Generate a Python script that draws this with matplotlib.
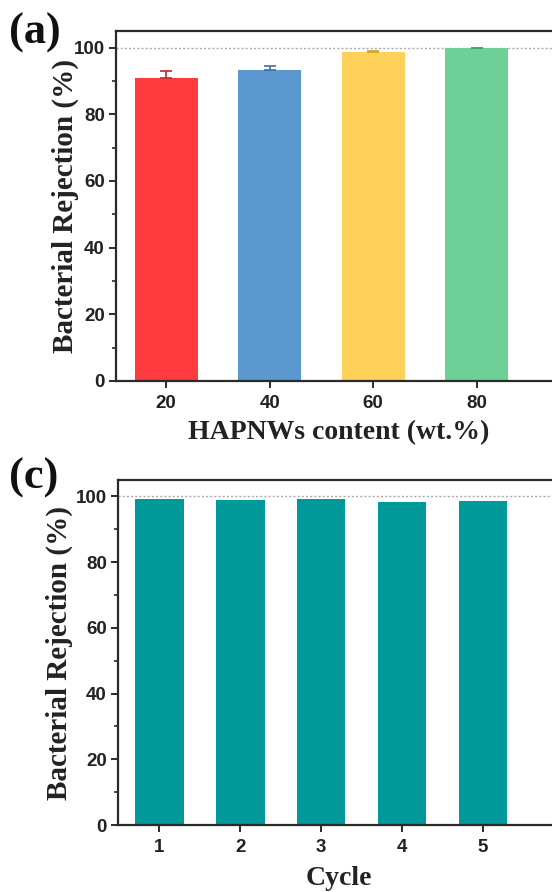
import matplotlib
matplotlib.use("Agg")
import matplotlib.pyplot as plt
from matplotlib.ticker import MultipleLocator

# panel (a)
content = [20, 40, 60, 80]
rejection_a = [91.0, 93.4, 98.6, 99.9]
err_a = [1.9, 1.2, 0.3, 0.1]
colors_a = ["#FF3B40", "#5B98CF", "#FFD159", "#6DD197"]
ecolors_a = ["#C0282C", "#3E6F9E", "#D0A030", "#4BA070"]

# panel (c)
cycle = [1, 2, 3, 4, 5]
rejection_c = [99.3, 98.9, 99.3, 98.4, 98.6]
teal = "#00999A"

serif = "Liberation Serif"
sans = "Liberation Sans"

fig = plt.figure(figsize=(5.52, 8.92), dpi=100)
W, H = 552, 892

def px_axes(left, top, right, bottom):
    return fig.add_axes([left / W, 1 - bottom / H, (right - left) / W, (bottom - top) / H])

def style(ax, ypad):
    for s in ax.spines.values():
        s.set_linewidth(1.6)
        s.set_color("#2a2a2a")
    ax.yaxis.set_major_locator(MultipleLocator(20))
    ax.yaxis.set_minor_locator(MultipleLocator(10))
    ax.tick_params(axis="both", which="major", direction="out", length=5, width=1.4,
                   color="#2a2a2a", labelsize=13.5, pad=3)
    ax.tick_params(axis="x", which="major", pad=5)
    ax.tick_params(axis="y", which="minor", direction="out", length=3, width=1.2, color="#2a2a2a")
    ax.tick_params(axis="x", which="minor", bottom=False)
    for lab in ax.get_xticklabels() + ax.get_yticklabels():
        lab.set_fontfamily(sans)
        lab.set_fontweight("bold")
        lab.set_color("#222222")
    ax.axhline(100, color="#aaaaaa", lw=1.0, ls=(0, (1.5, 1.5)), zorder=0)
    ax.set_ylim(0, 105)
    ax.set_ylabel("Bacterial Rejection (%)", fontfamily=serif, fontweight="bold",
                  fontsize=21, color="#222222", labelpad=ypad)

# (a)
ax1 = px_axes(116, 31, 562, 381)
ax1.bar(content, rejection_a, width=12.2, color=colors_a, zorder=2)
for x, y, e, ec in zip(content, rejection_a, err_a, ecolors_a):
    ax1.errorbar(x, y, yerr=[[0], [e]], fmt="none", ecolor=ec, elinewidth=1.2,
                 capsize=4, capthick=1.2, zorder=3)
ax1.set_xlim(10.3, 96.5)
ax1.set_xticks(content)
style(ax1, -4)
ax1.set_xlabel("HAPNWs content (wt.%)", fontfamily=serif, fontweight="bold",
               fontsize=20, color="#222222", labelpad=6)
fig.text(9 / W, 1 - 33 / H, "(a)", fontfamily=serif, fontweight="bold", fontsize=32,
         va="center", ha="left", color="#111111")

# (c)
ax2 = px_axes(118, 480, 560, 825)
ax2.bar(cycle, rejection_c, width=0.6, color=teal, zorder=2)
ax2.set_xlim(0.49, 5.95)
ax2.set_xticks(cycle)
style(ax2, 2)
ax2.set_xlabel("Cycle", fontfamily=serif, fontweight="bold",
               fontsize=20, color="#222222", labelpad=7)
fig.text(9 / W, 1 - 478 / H, "(c)", fontfamily=serif, fontweight="bold", fontsize=32,
         va="center", ha="left", color="#111111")

fig.savefig("out.png", dpi=100)
